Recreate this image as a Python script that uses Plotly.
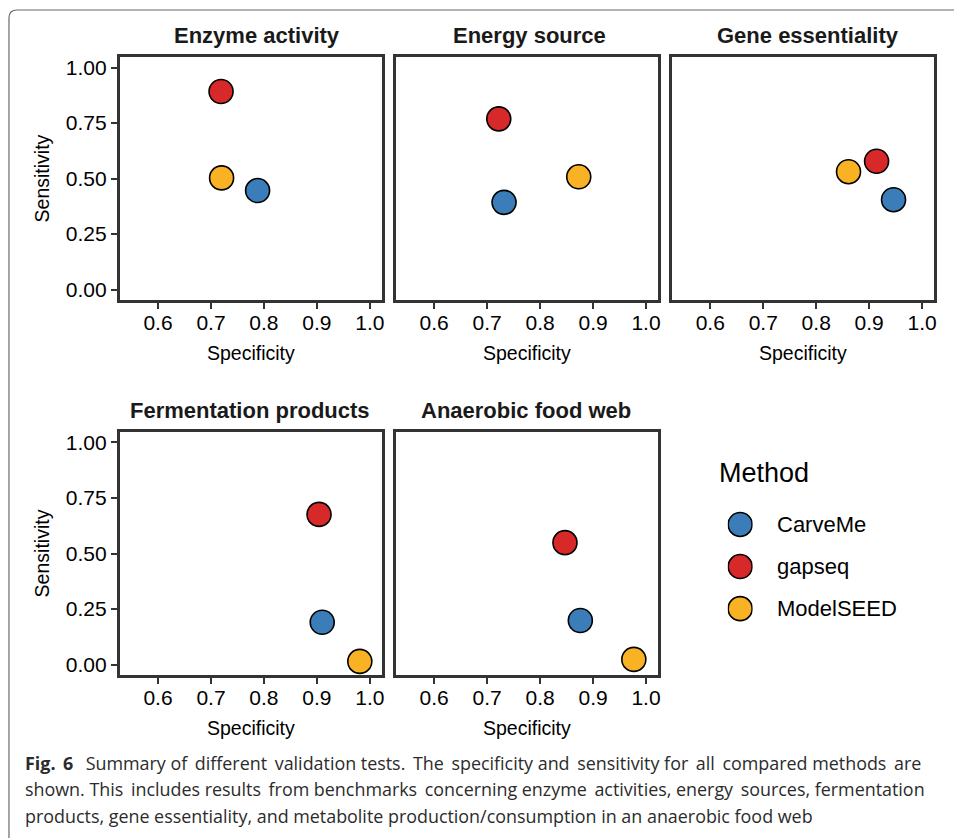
import plotly.graph_objects as go

# ---------------- data ----------------
panels = ["Enzyme activity", "Energy source", "Gene essentiality",
          "Fermentation products", "Anaerobic food web"]
methods = ["CarveMe", "gapseq", "ModelSEED"]
specificity_carveme = [0.788, 0.732, 0.946, 0.910, 0.876]
sensitivity_carveme = [0.446, 0.393, 0.405, 0.191, 0.199]
specificity_gapseq = [0.719, 0.722, 0.914, 0.904, 0.847]
sensitivity_gapseq = [0.892, 0.769, 0.578, 0.676, 0.549]
specificity_modelseed = [0.720, 0.873, 0.861, 0.981, 0.977]
sensitivity_modelseed = [0.503, 0.508, 0.531, 0.015, 0.024]
x_ticks = [0.6, 0.7, 0.8, 0.9, 1.0]
x_ticklabels = ["0.6", "0.7", "0.8", "0.9", "1.0"]
y_ticks = [0.0, 0.25, 0.5, 0.75, 1.0]
y_ticklabels = ["0.00", "0.25", "0.50", "0.75", "1.00"]
caption_lines = [
    "<b>Fig. 6</b>  Summary of different validation tests. The specificity and sensitivity for all compared methods are",
    "shown. This includes results from benchmarks concerning enzyme activities, energy sources, fermentation",
    "products, gene essentiality, and metabolite production/consumption in an anaerobic food web",
]
# extra (justification) spacing per caption line: number of gaps that get a six-per-em space
caption_extra_gaps = [10, 5, 0]

spec = {"CarveMe": specificity_carveme, "gapseq": specificity_gapseq, "ModelSEED": specificity_modelseed}
sens = {"CarveMe": sensitivity_carveme, "gapseq": sensitivity_gapseq, "ModelSEED": sensitivity_modelseed}
colors = {"CarveMe": "#3B7DB9", "gapseq": "#D7282A", "ModelSEED": "#F9B223"}

# ---------------- layout geometry (pixels) ----------------
W, H = 954, 838
FONT = "Liberation Sans, Arial, sans-serif"
col_px = [(120, 383), (397, 660), (674, 937)]
row_px = [(56, 300), (431.7, 676)]
panel_pos = [(0, 0), (0, 1), (0, 2), (1, 0), (1, 1)]
title_cx = [258, 531, 811, 251, 528]

def px_x(p):
    return p / W

def px_y(p):
    return 1 - p / H

def justify(line, n_extra):
    """Spread n_extra six-per-em spaces evenly over the word gaps of a line."""
    if n_extra <= 0:
        return line
    parts = line.split(" ")
    gaps = len(parts) - 1
    chosen = set(round((k + 0.5) * gaps / n_extra - 0.5) for k in range(n_extra))
    out = parts[0]
    for g in range(gaps):
        out += " " + ("\u2006" if g in chosen else "") + parts[g + 1]
    return out

fig = go.Figure()
annotations = []
layout = {}

for i, name in enumerate(panels):
    r, c = panel_pos[i]
    ax = "" if i == 0 else str(i + 1)
    for m in methods:
        fig.add_trace(go.Scatter(
            x=[spec[m][i]], y=[sens[m][i]], mode="markers",
            xaxis="x" + ax, yaxis="y" + ax, showlegend=False,
            marker=dict(size=24, color=colors[m], line=dict(color="black", width=1.6)),
            name=m, hoverinfo="name+x+y"))
    x0, x1 = col_px[c]
    y0, y1 = row_px[r]
    common = dict(showline=True, linecolor="#333333", linewidth=2.6, mirror=True,
                  ticks="outside", ticklen=6, tickwidth=1.6, tickcolor="#333333",
                  showgrid=False, zeroline=False, fixedrange=True,
                  tickfont=dict(family=FONT, size=21, color="black"))
    layout["xaxis" + ax] = dict(common, domain=[px_x(x0), px_x(x1)], range=[0.5275, 1.0225],
                                tickvals=x_ticks, ticktext=x_ticklabels,
                                ticklabelstandoff=-4, anchor="y" + ax)
    yax = dict(common, domain=[px_y(y1), px_y(y0)], range=[-0.048, 1.048],
               anchor="x" + ax)
    if c == 0:
        yax.update(tickvals=y_ticks, ticktext=y_ticklabels)
    else:
        yax.update(tickvals=[], showticklabels=False, ticks="")
    layout["yaxis" + ax] = yax

    # panel title
    annotations.append(dict(text="<b>" + name + "</b>", x=px_x(title_cx[i]), y=px_y(y0 - 21),
                            xref="paper", yref="paper", xanchor="center", yanchor="middle",
                            showarrow=False, font=dict(family=FONT, size=22, color="#1a1a1a")))
    # x axis title
    annotations.append(dict(text="Specificity", x=px_x((x0 + x1) / 2), y=px_y(y1 + 53),
                            xref="paper", yref="paper", xanchor="center", yanchor="middle",
                            showarrow=False, font=dict(family=FONT, size=19.5, color="black")))
    if c == 0:
        annotations.append(dict(text="Sensitivity", x=px_x(42), y=px_y((y0 + y1) / 2),
                                xref="paper", yref="paper", xanchor="center", yanchor="middle",
                                textangle=-90, showarrow=False,
                                font=dict(family=FONT, size=19.5, color="black")))

# ---------------- legend (drawn manually) ----------------
fig.add_trace(go.Scatter(
    x=[0, 0, 0], y=[0, 1, 2], mode="markers", xaxis="x6", yaxis="y6", showlegend=False,
    marker=dict(size=24, color=[colors[m] for m in methods], line=dict(color="black", width=1.6)),
    hoverinfo="skip"))
layout["xaxis6"] = dict(domain=[px_x(730), px_x(755)], range=[-1, 1], visible=False,
                        anchor="y6", fixedrange=True)
layout["yaxis6"] = dict(domain=[px_y(630.2), px_y(503.6)], range=[2.5, -0.5], visible=False,
                        anchor="x6", fixedrange=True)
legend_y = [524.7, 566.9, 609.1]
for m, yy in zip(methods, legend_y):
    annotations.append(dict(text=m, x=px_x(777), y=px_y(yy), xref="paper", yref="paper",
                            xanchor="left", yanchor="middle", showarrow=False,
                            font=dict(family=FONT, size=22, color="black")))
annotations.append(dict(text="Method", x=px_x(719), y=px_y(473), xref="paper", yref="paper",
                        xanchor="left", yanchor="middle", showarrow=False,
                        font=dict(family=FONT, size=27, color="black")))

# ---------------- caption ----------------
for k, line in enumerate(caption_lines):
    annotations.append(dict(text=justify(line, caption_extra_gaps[k]), x=px_x(23),
                            y=px_y(764 + 26.3 * k), xref="paper", yref="paper",
                            xanchor="left", yanchor="middle", showarrow=False,
                            font=dict(family="Open Sans, Noto Sans, sans-serif", size=17.9,
                                      color="#2b2b2b")))

# ---------------- outer frame ----------------
rr = 8
path = (f"M {px_x(9)},{px_y(H + 5)} L {px_x(9)},{px_y(9 + rr)} "
        f"Q {px_x(9)},{px_y(9)} {px_x(9 + rr)},{px_y(9)} L {px_x(W + 5)},{px_y(9)}")
shapes = [dict(type="path", path=path, xref="paper", yref="paper",
               line=dict(color="#6b6b6b", width=1.2))]

fig.update_layout(**layout)
fig.update_layout(
    width=W, height=H, margin=dict(l=0, r=0, t=0, b=0),
    paper_bgcolor="white", plot_bgcolor="white",
    annotations=annotations, shapes=shapes, showlegend=False,
    font=dict(family=FONT),
)
fig.write_html("out.html")
